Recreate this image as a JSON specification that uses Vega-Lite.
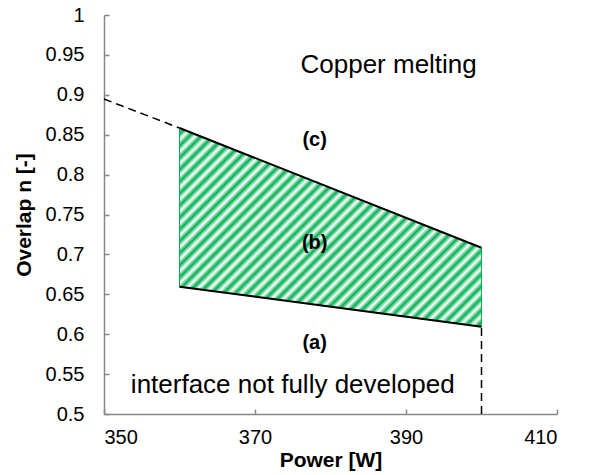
{
  "$schema": "https://vega.github.io/schema/vega-lite/v6.json",
  "width": 453,
  "height": 399,
  "autosize": "none",
  "padding": {"left": 104, "top": 15, "right": 35, "bottom": 61},
  "background": "white",
  "config": {
    "view": {"stroke": null},
    "font": "Liberation Sans",
    "axis": {
      "grid": false,
      "domainColor": "#868686",
      "domainWidth": 1.5,
      "ticks": true,
      "tickColor": "#868686",
      "tickWidth": 1.5,
      "tickSize": -5,
      "labelFont": "Liberation Sans",
      "labelFontSize": 20,
      "labelColor": "#000000",
      "labelOverlap": false,
      "titleFont": "Liberation Sans",
      "titleFontSize": 21,
      "titleFontWeight": "bold",
      "titleColor": "#000000"
    }
  },
  "datasets": {
    "band": [
      {"power": 360, "upper": 0.8584, "lower": 0.6595},
      {"power": 400, "upper": 0.7084, "lower": 0.6094}
    ],
    "ext": [
      {"power": 350, "n": 0.8947},
      {"power": 360, "n": 0.8584}
    ],
    "vert": [
      {"power": 400, "n1": 0.5, "n2": 0.6094}
    ],
    "labels": [
      {"power": 377.9, "n": 0.843, "label": "(c)"},
      {"power": 377.9, "n": 0.714, "label": "(b)"},
      {"power": 377.9, "n": 0.589, "label": "(a)"}
    ],
    "notes": [
      {"power": 387.7, "n": 0.927, "label": "Copper melting"},
      {"power": 375.0, "n": 0.5267, "label": "interface not fully developed"}
    ]
  },
  "layer": [
    {
      "data": {"name": "band"},
      "mark": {
        "type": "area",
        "stroke": "#00b050",
        "strokeWidth": 1,
        "fill": {
          "gradient": "linear",
          "x1": 0, "y1": 0, "x2": 1.16, "y2": 0.763,
          "stops": [
            {"offset": 0, "color": "#ffffff"},
            {"offset": 0.0119, "color": "#00b050"},
            {"offset": 0.0238, "color": "#ffffff"},
            {"offset": 0.0357, "color": "#00b050"},
            {"offset": 0.0476, "color": "#ffffff"},
            {"offset": 0.0595, "color": "#00b050"},
            {"offset": 0.0714, "color": "#ffffff"},
            {"offset": 0.0833, "color": "#00b050"},
            {"offset": 0.0952, "color": "#ffffff"},
            {"offset": 0.1071, "color": "#00b050"},
            {"offset": 0.119, "color": "#ffffff"},
            {"offset": 0.131, "color": "#00b050"},
            {"offset": 0.1429, "color": "#ffffff"},
            {"offset": 0.1548, "color": "#00b050"},
            {"offset": 0.1667, "color": "#ffffff"},
            {"offset": 0.1786, "color": "#00b050"},
            {"offset": 0.1905, "color": "#ffffff"},
            {"offset": 0.2024, "color": "#00b050"},
            {"offset": 0.2143, "color": "#ffffff"},
            {"offset": 0.2262, "color": "#00b050"},
            {"offset": 0.2381, "color": "#ffffff"},
            {"offset": 0.25, "color": "#00b050"},
            {"offset": 0.2619, "color": "#ffffff"},
            {"offset": 0.2738, "color": "#00b050"},
            {"offset": 0.2857, "color": "#ffffff"},
            {"offset": 0.2976, "color": "#00b050"},
            {"offset": 0.3095, "color": "#ffffff"},
            {"offset": 0.3214, "color": "#00b050"},
            {"offset": 0.3333, "color": "#ffffff"},
            {"offset": 0.3452, "color": "#00b050"},
            {"offset": 0.3571, "color": "#ffffff"},
            {"offset": 0.369, "color": "#00b050"},
            {"offset": 0.381, "color": "#ffffff"},
            {"offset": 0.3929, "color": "#00b050"},
            {"offset": 0.4048, "color": "#ffffff"},
            {"offset": 0.4167, "color": "#00b050"},
            {"offset": 0.4286, "color": "#ffffff"},
            {"offset": 0.4405, "color": "#00b050"},
            {"offset": 0.4524, "color": "#ffffff"},
            {"offset": 0.4643, "color": "#00b050"},
            {"offset": 0.4762, "color": "#ffffff"},
            {"offset": 0.4881, "color": "#00b050"},
            {"offset": 0.5, "color": "#ffffff"},
            {"offset": 0.5119, "color": "#00b050"},
            {"offset": 0.5238, "color": "#ffffff"},
            {"offset": 0.5357, "color": "#00b050"},
            {"offset": 0.5476, "color": "#ffffff"},
            {"offset": 0.5595, "color": "#00b050"},
            {"offset": 0.5714, "color": "#ffffff"},
            {"offset": 0.5833, "color": "#00b050"},
            {"offset": 0.5952, "color": "#ffffff"},
            {"offset": 0.6071, "color": "#00b050"},
            {"offset": 0.619, "color": "#ffffff"},
            {"offset": 0.631, "color": "#00b050"},
            {"offset": 0.6429, "color": "#ffffff"},
            {"offset": 0.6548, "color": "#00b050"},
            {"offset": 0.6667, "color": "#ffffff"},
            {"offset": 0.6786, "color": "#00b050"},
            {"offset": 0.6905, "color": "#ffffff"},
            {"offset": 0.7024, "color": "#00b050"},
            {"offset": 0.7143, "color": "#ffffff"},
            {"offset": 0.7262, "color": "#00b050"},
            {"offset": 0.7381, "color": "#ffffff"},
            {"offset": 0.75, "color": "#00b050"},
            {"offset": 0.7619, "color": "#ffffff"},
            {"offset": 0.7738, "color": "#00b050"},
            {"offset": 0.7857, "color": "#ffffff"},
            {"offset": 0.7976, "color": "#00b050"},
            {"offset": 0.8095, "color": "#ffffff"},
            {"offset": 0.8214, "color": "#00b050"},
            {"offset": 0.8333, "color": "#ffffff"},
            {"offset": 0.8452, "color": "#00b050"},
            {"offset": 0.8571, "color": "#ffffff"},
            {"offset": 0.869, "color": "#00b050"},
            {"offset": 0.881, "color": "#ffffff"},
            {"offset": 0.8929, "color": "#00b050"},
            {"offset": 0.9048, "color": "#ffffff"},
            {"offset": 0.9167, "color": "#00b050"},
            {"offset": 0.9286, "color": "#ffffff"},
            {"offset": 0.9405, "color": "#00b050"},
            {"offset": 0.9524, "color": "#ffffff"},
            {"offset": 0.9643, "color": "#00b050"},
            {"offset": 0.9762, "color": "#ffffff"},
            {"offset": 0.9881, "color": "#00b050"},
            {"offset": 1, "color": "#ffffff"}
          ]
        }
      },
      "encoding": {
        "x": {
          "field": "power", "type": "quantitative",
          "scale": {"domain": [350, 410], "nice": false, "zero": false},
          "axis": {"values": [350, 370, 390, 410], "tickCount": 20, "title": "Power [W]", "labelPadding": 18, "titlePadding": 2}
        },
        "y": {
          "field": "upper", "type": "quantitative",
          "scale": {"domain": [0.5, 1], "nice": false, "zero": false},
          "axis": {"tickCount": 10, "format": "~g", "title": "Overlap n [-]", "labelPadding": 25, "titlePadding": 11}
        },
        "y2": {"field": "lower"}
      }
    },
    {
      "data": {"name": "band"},
      "mark": {"type": "line", "color": "#000000", "strokeWidth": 2},
      "encoding": {
        "x": {"field": "power", "type": "quantitative"},
        "y": {"field": "upper", "type": "quantitative"}
      }
    },
    {
      "data": {"name": "band"},
      "mark": {"type": "line", "color": "#000000", "strokeWidth": 2},
      "encoding": {
        "x": {"field": "power", "type": "quantitative"},
        "y": {"field": "lower", "type": "quantitative"}
      }
    },
    {
      "data": {"name": "ext"},
      "mark": {"type": "line", "color": "#000000", "strokeWidth": 1.5, "strokeDash": [8, 5]},
      "encoding": {
        "x": {"field": "power", "type": "quantitative"},
        "y": {"field": "n", "type": "quantitative"}
      }
    },
    {
      "data": {"name": "vert"},
      "mark": {"type": "rule", "color": "#000000", "strokeWidth": 1.5, "strokeDash": [8, 5]},
      "encoding": {
        "x": {"field": "power", "type": "quantitative"},
        "y": {"field": "n1", "type": "quantitative"},
        "y2": {"field": "n2"}
      }
    },
    {
      "data": {"name": "labels"},
      "mark": {"type": "text", "fontSize": 20, "fontWeight": "bold", "baseline": "middle", "align": "center", "color": "#000000"},
      "encoding": {
        "x": {"field": "power", "type": "quantitative"},
        "y": {"field": "n", "type": "quantitative"},
        "text": {"field": "label"}
      }
    },
    {
      "data": {"name": "notes"},
      "mark": {"type": "text", "fontSize": 26, "baseline": "alphabetic", "align": "center", "color": "#000000"},
      "encoding": {
        "x": {"field": "power", "type": "quantitative"},
        "y": {"field": "n", "type": "quantitative"},
        "text": {"field": "label"}
      }
    }
  ]
}
